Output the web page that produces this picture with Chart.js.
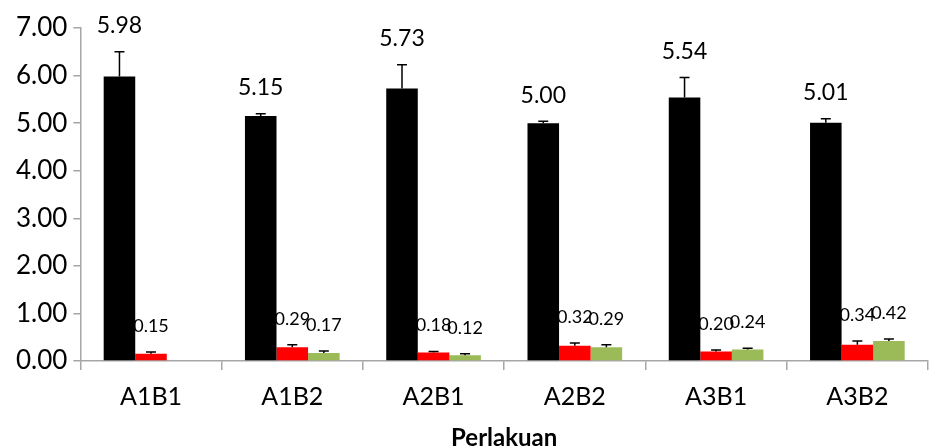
<!DOCTYPE html>
<html>
<head>
<meta charset="utf-8">
<script src="https://cdn.jsdelivr.net/npm/chart.js@4.4.0/dist/chart.umd.min.js"></script>
<style>
    html, body { margin: 0; padding: 0; background: #fff; }
    #wrap { width: 933px; height: 448px; position: relative; }
</style>
</head>
<body>
<div id="wrap"><canvas id="perlakuan-chart"></canvas></div>
<script>
const categories = ['A1B1', 'A1B2', 'A2B1', 'A2B2', 'A3B1', 'A3B2'];
const blackValues = [5.98, 5.15, 5.73, 5.00, 5.54, 5.01];
const redValues = [0.15, 0.29, 0.18, 0.32, 0.20, 0.34];
const greenValues = [0, 0.17, 0.12, 0.29, 0.24, 0.42];
const blackErrors = [0.52, 0.05, 0.50, 0.04, 0.42, 0.08];
const redErrors = [0.04, 0.05, 0.02, 0.06, 0.03, 0.08];
const greenErrors = [0, 0.04, 0.03, 0.05, 0.03, 0.04];
const yTicks = [0, 1, 2, 3, 4, 5, 6, 7];

const FONT = 'Lato, "Open Sans", sans-serif';

// error bars (plus side only) and value labels above them
const errorBarsPlugin = {
    id: 'errorBars',
    afterDatasetsDraw(chart) {
        const ctx = chart.ctx;
        const yScale = chart.scales.y;
        chart.data.datasets.forEach((ds, i) => {
            const meta = chart.getDatasetMeta(i);
            meta.data.forEach((bar, j) => {
                const value = ds.data[j];
                if (!value) return;
                const yTop = yScale.getPixelForValue(value + ds.errors[j]);
                ctx.save();
                ctx.strokeStyle = '#000';
                ctx.lineWidth = 1.5;
                ctx.beginPath();
                ctx.moveTo(bar.x, bar.y);
                ctx.lineTo(bar.x, yTop);
                ctx.moveTo(bar.x - 5, yTop);
                ctx.lineTo(bar.x + 5, yTop);
                ctx.stroke();
                ctx.fillStyle = '#000';
                ctx.font = ds.labelSize + 'px ' + FONT;
                ctx.textAlign = 'center';
                ctx.textBaseline = 'middle';
                ctx.fillText(value.toFixed(2), bar.x, yTop - 26);
                ctx.restore();
            });
        });
    }
};

const ctx = document.getElementById('perlakuan-chart').getContext('2d');
const chart = new Chart(ctx, {
    type: 'bar',
    data: {
        labels: categories,
        datasets: [{
            data: blackValues,
            errors: blackErrors,
            labelSize: 23,
            backgroundColor: '#000000'
        }, {
            data: redValues,
            errors: redErrors,
            labelSize: 18,
            backgroundColor: '#FF0000'
        }, {
            data: greenValues,
            errors: greenErrors,
            labelSize: 18,
            backgroundColor: '#9BBB59'
        }]
    },
    options: {
        responsive: true,
        maintainAspectRatio: false,
        animation: false,
        layout: {
            padding: { left: 10, right: 5, top: 28, bottom: -2 }
        },
        datasets: {
            bar: {
                categoryPercentage: 0.67,
                barPercentage: 1.0
            }
        },
        scales: {
            x: {
                grid: {
                    offset: true,
                    drawOnChartArea: false,
                    color: '#a6a6a6',
                    tickLength: 9,
                    lineWidth: 1.5
                },
                border: { color: '#a6a6a6', width: 1.5 },
                ticks: {
                    color: '#000',
                    font: { family: FONT, size: 25, lineHeight: 1.0 },
                    padding: 14
                },
                title: {
                    display: true,
                    text: 'Perlakuan',
                    color: '#000',
                    font: { family: FONT, size: 24, weight: 'bold', lineHeight: 1.0 },
                    padding: { top: 3, bottom: 0 }
                }
            },
            y: {
                min: 0,
                max: 7,
                afterBuildTicks: axis => {
                    axis.ticks = yTicks.map(v => ({ value: v }));
                },
                grid: {
                    drawOnChartArea: false,
                    color: '#a6a6a6',
                    tickLength: 7,
                    lineWidth: 1.5
                },
                border: { color: '#a6a6a6', width: 1.5 },
                ticks: {
                    color: '#000',
                    font: { family: FONT, size: 26 },
                    padding: 6,
                    callback: v => v.toFixed(2)
                }
            }
        },
        plugins: {
            legend: { display: false },
            tooltip: { enabled: false }
        }
    },
    plugins: [errorBarsPlugin]
});
</script>
</body>
</html>
